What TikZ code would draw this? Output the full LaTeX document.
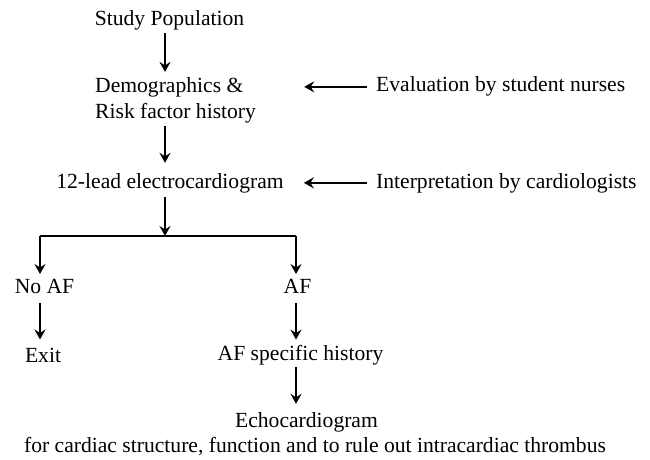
\documentclass[tikz,border=0pt]{standalone}
\usepackage{fontspec}
\setmainfont{Liberation Serif}
\usetikzlibrary{arrows.meta}

\tikzset{
  txt/.style={inner sep=0pt, font=\fontsize{21.6}{26}\selectfont},
  arr/.style={-{Stealth[length=10pt,width=11pt,inset=3.5pt]}, line width=2pt},
  ln/.style={line width=2pt}
}

\begin{document}
\begin{tikzpicture}[x=1pt, y=-1pt]
\useasboundingbox (0,0) rectangle (650,460);

% main column
\node[txt, anchor=base] (sp) at (169.5,26) {Study Population};
\node[txt, anchor=north west, align=left] (demo) at (95,77.4) {Demographics \&\\Risk factor history};
\node[txt, anchor=base] (ecg) at (170,188) {12-lead electrocardiogram};
\node[txt, anchor=base] (noaf) at (44.5,293) {No AF};
\node[txt, anchor=base] (af) at (297.5,293) {AF};
\node[txt, anchor=base] (exit) at (43,362) {Exit};
\node[txt, anchor=base] (afh) at (300.5,360) {AF specific history};
\node[txt, anchor=base] (echo) at (306.5,427) {Echocardiogram};
\node[txt, anchor=base] (note) at (315,452) {for cardiac structure, function and to rule out intracardiac thrombus};

% side notes
\node[txt, anchor=base west] (eval) at (376,92) {Evaluation by student nurses};
\node[txt, anchor=base west] (interp) at (376,188) {Interpretation by cardiologists};

\coordinate (col) at (165,0);
\coordinate (split) at (165,236);
\coordinate (lb) at (40,236);
\coordinate (rb) at (296,236);

\draw[arr, shorten <=2.5pt, shorten >=5.5pt] (sp.south -| col) -- (demo.north -| col);
\draw[arr, shorten <=2.5pt, shorten >=10pt] (demo.south -| col) -- (ecg.north -| col);
\draw[arr, shorten <=4pt] (ecg.south -| split) -- (split);
\draw[ln] (lb) -- (rb);
\draw[arr, shorten >=4.5pt] (lb) -- (lb |- noaf.north);
\draw[arr, shorten >=4.5pt] (rb) -- (rb |- af.north);
\draw[arr, shorten <=10pt, shorten >=8pt] (noaf.south -| lb) -- (exit.north -| lb);
\draw[arr, shorten <=10pt, shorten >=5pt] (af.south -| rb) -- (afh.north -| rb);
\draw[arr, shorten <=2.5pt, shorten >=8pt] (afh.south -| rb) -- (echo.north -| rb);

\draw[arr, shorten <=9pt, shorten >=48pt] (eval.west) -- (eval.west -| demo.east);
\draw[arr, shorten <=9pt, shorten >=20pt] (interp.west) -- (interp.west -| ecg.east);
\end{tikzpicture}
\end{document}
